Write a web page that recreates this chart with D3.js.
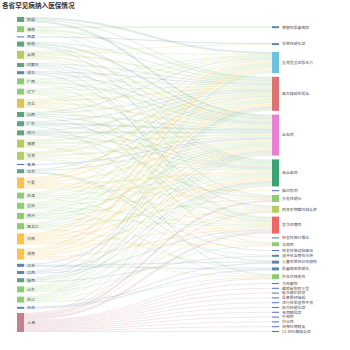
<!DOCTYPE html>
<html>
<head>
<meta charset="utf-8">
<script src="https://cdn.jsdelivr.net/npm/d3@7"></script>
<style>
  html, body { margin: 0; padding: 0; background: #fff; }
  #chart { width: 350px; height: 350px; }
</style>
</head>
<body>
<div id="chart"></div>
<script>
const TITLE = '各省罕见病纳入医保情况';

// left column, top to bottom
const provinces = ['新疆', '海南', '西藏', '安徽', '云南', '内蒙古', '湖北', '广西', '辽宁', '河北',
  '山西', '广东', '四川', '福建', '甘肃', '青海', '北京', '宁夏', '天津', '重庆', '贵州', '黑龙江',
  '河南', '湖南', '江苏', '江西', '陕西', '山东', '浙江', '吉林', '上海'];

// right column, top to bottom
const diseases = ['脊髓性肌萎缩症', '系统性硬化症', '全身型重症肌无力', '再生障碍性贫血', '血友病',
  '帕金森病', '脑白质病', '多发性硬化', '四氢生物蝶呤缺乏症', '发作性睡病', '特发性肺纤维化', '戈谢病',
  '特发性肺动脉高压', '遗传性血管性水肿', '儿童系统性红斑狼疮', '肌萎缩侧索硬化', '肝豆状核变性',
  '法布雷病', '糖原累积病Ⅱ型', '黏多糖贮积症', '尿素循环障碍', '进行性肌营养不良', '结节性硬化症',
  '苯丙酮尿症', '卟啉病', '白化病', '视神经脊髓炎', '21-羟化酶缺乏症'];

// [province, disease, value]
const flows = [
  ['新疆', '全身型重症肌无力', 2], ['新疆', '再生障碍性贫血', 1], ['新疆', '血友病', 2],
  ['海南', '脊髓性肌萎缩症', 2], ['海南', '再生障碍性贫血', 2], ['海南', '血友病', 1], ['海南', '帕金森病', 1],
  ['西藏', '系统性硬化症', 1],
  ['安徽', '再生障碍性贫血', 1], ['安徽', '血友病', 2], ['安徽', '帕金森病', 1], ['安徽', '多发性硬化', 1],
  ['云南', '系统性硬化症', 1], ['云南', '全身型重症肌无力', 1], ['云南', '再生障碍性贫血', 2], ['云南', '血友病', 2], ['云南', '帕金森病', 1], ['云南', '发作性睡病', 1],
  ['内蒙古', '再生障碍性贫血', 1], ['内蒙古', '血友病', 1], ['内蒙古', '帕金森病', 1], ['内蒙古', '发作性睡病', 1],
  ['湖北', '再生障碍性贫血', 1], ['湖北', '血友病', 1], ['湖北', '四氢生物蝶呤缺乏症', 1],
  ['广西', '全身型重症肌无力', 1], ['广西', '再生障碍性贫血', 1], ['广西', '血友病', 2], ['广西', '帕金森病', 1], ['广西', '发作性睡病', 1],
  ['辽宁', '全身型重症肌无力', 1], ['辽宁', '再生障碍性贫血', 1], ['辽宁', '血友病', 1], ['辽宁', '帕金森病', 1], ['辽宁', '多发性硬化', 1], ['辽宁', '戈谢病', 1],
  ['河北', '全身型重症肌无力', 1], ['河北', '再生障碍性贫血', 2], ['河北', '血友病', 2], ['河北', '帕金森病', 1], ['河北', '四氢生物蝶呤缺乏症', 1], ['河北', '发作性睡病', 1], ['河北', '特发性肺纤维化', 1],
  ['山西', '全身型重症肌无力', 1], ['山西', '再生障碍性贫血', 1], ['山西', '血友病', 1], ['山西', '帕金森病', 1], ['山西', '发作性睡病', 1],
  ['广东', '再生障碍性贫血', 1], ['广东', '血友病', 2], ['广东', '帕金森病', 1], ['广东', '肝豆状核变性', 1],
  ['四川', '再生障碍性贫血', 1], ['四川', '血友病', 2], ['四川', '帕金森病', 1], ['四川', '多发性硬化', 1],
  ['福建', '全身型重症肌无力', 1], ['福建', '再生障碍性贫血', 2], ['福建', '血友病', 2], ['福建', '帕金森病', 1], ['福建', '四氢生物蝶呤缺乏症', 1], ['福建', '发作性睡病', 1],
  ['甘肃', '全身型重症肌无力', 1], ['甘肃', '再生障碍性贫血', 2], ['甘肃', '血友病', 2], ['甘肃', '帕金森病', 1], ['甘肃', '发作性睡病', 1], ['甘肃', '戈谢病', 1],
  ['青海', '血友病', 1],
  ['北京', '再生障碍性贫血', 1], ['北京', '血友病', 1], ['北京', '特发性肺动脉高压', 1], ['北京', '儿童系统性红斑狼疮', 1],
  ['宁夏', '全身型重症肌无力', 2], ['宁夏', '再生障碍性贫血', 2], ['宁夏', '血友病', 2], ['宁夏', '帕金森病', 2], ['宁夏', '脑白质病', 1], ['宁夏', '多发性硬化', 1], ['宁夏', '发作性睡病', 1],
  ['天津', '全身型重症肌无力', 1], ['天津', '再生障碍性贫血', 1], ['天津', '血友病', 1], ['天津', '帕金森病', 1], ['天津', '四氢生物蝶呤缺乏症', 1], ['天津', '遗传性血管性水肿', 1],
  ['重庆', '全身型重症肌无力', 1], ['重庆', '再生障碍性贫血', 1], ['重庆', '血友病', 1], ['重庆', '帕金森病', 1], ['重庆', '发作性睡病', 1], ['重庆', '肝豆状核变性', 1],
  ['贵州', '全身型重症肌无力', 1], ['贵州', '再生障碍性贫血', 1], ['贵州', '血友病', 2], ['贵州', '帕金森病', 1], ['贵州', '发作性睡病', 1],
  ['黑龙江', '全身型重症肌无力', 1], ['黑龙江', '再生障碍性贫血', 1], ['黑龙江', '血友病', 1], ['黑龙江', '帕金森病', 1], ['黑龙江', '多发性硬化', 1], ['黑龙江', '肌萎缩侧索硬化', 1],
  ['河南', '全身型重症肌无力', 2], ['河南', '再生障碍性贫血', 2], ['河南', '血友病', 2], ['河南', '帕金森病', 2], ['河南', '四氢生物蝶呤缺乏症', 1], ['河南', '发作性睡病', 1], ['河南', '戈谢病', 1],
  ['湖南', '全身型重症肌无力', 2], ['湖南', '再生障碍性贫血', 2], ['湖南', '血友病', 2], ['湖南', '帕金森病', 2], ['湖南', '发作性睡病', 2], ['湖南', '肝豆状核变性', 1],
  ['江苏', '血友病', 1], ['江苏', '儿童系统性红斑狼疮', 1], ['江苏', '肌萎缩侧索硬化', 1],
  ['江西', '再生障碍性贫血', 1], ['江西', '帕金森病', 1], ['江西', '发作性睡病', 1],
  ['陕西', '再生障碍性贫血', 1], ['陕西', '血友病', 1], ['陕西', '帕金森病', 1], ['陕西', '遗传性血管性水肿', 1],
  ['山东', '全身型重症肌无力', 1], ['山东', '再生障碍性贫血', 1], ['山东', '血友病', 1], ['山东', '帕金森病', 1], ['山东', '四氢生物蝶呤缺乏症', 1], ['山东', '戈谢病', 1],
  ['浙江', '全身型重症肌无力', 1], ['浙江', '再生障碍性贫血', 1], ['浙江', '血友病', 1], ['浙江', '帕金森病', 1], ['浙江', '发作性睡病', 1], ['浙江', '肝豆状核变性', 1],
  ['吉林', '儿童系统性红斑狼疮', 1], ['吉林', '肌萎缩侧索硬化', 1],
  ['上海', '血友病', 1], ['上海', '帕金森病', 1], ['上海', '多发性硬化', 2], ['上海', '四氢生物蝶呤缺乏症', 1], ['上海', '发作性睡病', 2], ['上海', '肝豆状核变性', 1],
  ['上海', '法布雷病', 1], ['上海', '糖原累积病Ⅱ型', 1], ['上海', '黏多糖贮积症', 1], ['上海', '尿素循环障碍', 1], ['上海', '进行性肌营养不良', 1],
  ['上海', '结节性硬化症', 1], ['上海', '苯丙酮尿症', 1], ['上海', '卟啉病', 1], ['上海', '白化病', 1], ['上海', '视神经脊髓炎', 1], ['上海', '21-羟化酶缺乏症', 1]
];

const W = 350, H = 350;
const yTop = 17, yBottom = 332;
const leftX = 17, rightX = 272, nodeW = 7;
const leftGap = 4.2, rightGap = 3.8;

// node colour follows the node total, a few large diseases get their own
const valueColor = d3.scaleThreshold()
  .domain([2, 4, 6, 8, 9, 11, 16])
  .range(['#5470c6', '#5d86a9', '#62a283', '#8fcb73', '#b5cc64', '#d8c653', '#fbc34e', '#c7808b']);
const namedColor = {
  '全身型重症肌无力': '#6ec0e0',
  '再生障碍性贫血': '#de7271',
  '血友病': '#e87fd0',
  '帕金森病': '#3ba272',
  '四氢生物蝶呤缺乏症': '#b5cc64',
  '发作性睡病': '#ee6666',
  '戈谢病': '#8fcb73',
  '肝豆状核变性': '#8fcb73'
};

// build nodes and links
const byName = new Map();
const leftNodes = provinces.map((name, index) => ({ name, index, value: 0, out: [], inc: [] }));
const rightNodes = diseases.map((name, index) => ({ name, index, value: 0, out: [], inc: [] }));
leftNodes.concat(rightNodes).forEach(n => byName.set(n.name, n));

const links = flows.map(([s, t, v]) => {
  const link = { source: byName.get(s), target: byName.get(t), value: v };
  link.source.out.push(link);
  link.target.inc.push(link);
  link.source.value += v;
  link.target.value += v;
  return link;
});

leftNodes.forEach(n => { n.x0 = leftX; n.x1 = leftX + nodeW; });
rightNodes.forEach(n => { n.x0 = rightX; n.x1 = rightX + nodeW; });

const ky = Math.min(
  (yBottom - yTop - (leftNodes.length - 1) * leftGap) / d3.sum(leftNodes, d => d.value),
  (yBottom - yTop - (rightNodes.length - 1) * rightGap) / d3.sum(rightNodes, d => d.value)
);
links.forEach(l => { l.width = l.value * ky; });

// provinces: plain stack
let yy = yTop;
leftNodes.forEach(n => { n.y0 = yy; n.y1 = yy + n.value * ky; yy = n.y1 + leftGap; });

// outgoing link slots, in disease order
leftNodes.forEach(n => {
  let y = n.y0;
  n.out.sort((a, b) => a.target.index - b.target.index)
    .forEach(l => { l.y0 = y + l.width / 2; y += l.width; });
});

function pushDown(col, y, gap) {
  col.forEach(n => {
    const dy = y - n.y0;
    if (dy > 0) { n.y0 += dy; n.y1 += dy; }
    y = n.y1 + gap;
  });
}
function pushUp(col, y, gap) {
  for (let i = col.length - 1; i >= 0; --i) {
    const n = col[i], dy = n.y1 - y;
    if (dy > 0) { n.y0 -= dy; n.y1 -= dy; }
    y = n.y0 - gap;
  }
}

// diseases: centre on the weighted mean of incoming links, then remove overlaps
rightNodes.forEach(n => {
  const c = d3.sum(n.inc, l => l.y0 * l.width) / d3.sum(n.inc, l => l.width);
  const h = n.value * ky;
  n.y0 = c - h / 2;
  n.y1 = c + h / 2;
});
pushDown(rightNodes, yTop, rightGap);
pushUp(rightNodes, yBottom, rightGap);
pushDown(rightNodes, yTop, rightGap);

rightNodes.forEach(n => {
  let y = n.y0;
  n.inc.sort((a, b) => a.source.index - b.source.index)
    .forEach(l => { l.y1 = y + l.width / 2; y += l.width; });
});

const colorOf = n => namedColor[n.name] || valueColor(n.value);

const svg = d3.select('#chart').append('svg')
  .attr('width', W)
  .attr('height', H)
  .style('font-family', '"Noto Sans CJK SC", "Noto Sans", sans-serif');

svg.append('text')
  .attr('x', 2)
  .attr('y', 7.6)
  .attr('font-size', 6.6)
  .attr('font-weight', 'bold')
  .attr('fill', '#333')
  .text(TITLE);

const linkPath = d3.linkHorizontal()
  .source(d => [d.source.x1, d.y0])
  .target(d => [d.target.x0, d.y1]);

svg.append('g')
  .attr('fill', 'none')
  .selectAll('path')
  .data(links)
  .join('path')
  .attr('d', linkPath)
  .attr('stroke', d => colorOf(d.source))
  .attr('stroke-opacity', 0.2)
  .attr('stroke-width', d => Math.max(0.8, d.width));

const node = svg.append('g')
  .selectAll('g')
  .data(leftNodes.concat(rightNodes))
  .join('g');

node.append('rect')
  .attr('x', d => d.x0)
  .attr('y', d => d.y0)
  .attr('width', d => d.x1 - d.x0)
  .attr('height', d => Math.max(1, d.y1 - d.y0))
  .attr('fill', d => colorOf(d));

node.append('text')
  .attr('x', d => d.x1 + 3)
  .attr('y', d => (d.y0 + d.y1) / 2)
  .attr('dy', '0.35em')
  .attr('font-size', 3.9)
  .attr('fill', '#555')
  .text(d => d.name);
</script>
</body>
</html>
